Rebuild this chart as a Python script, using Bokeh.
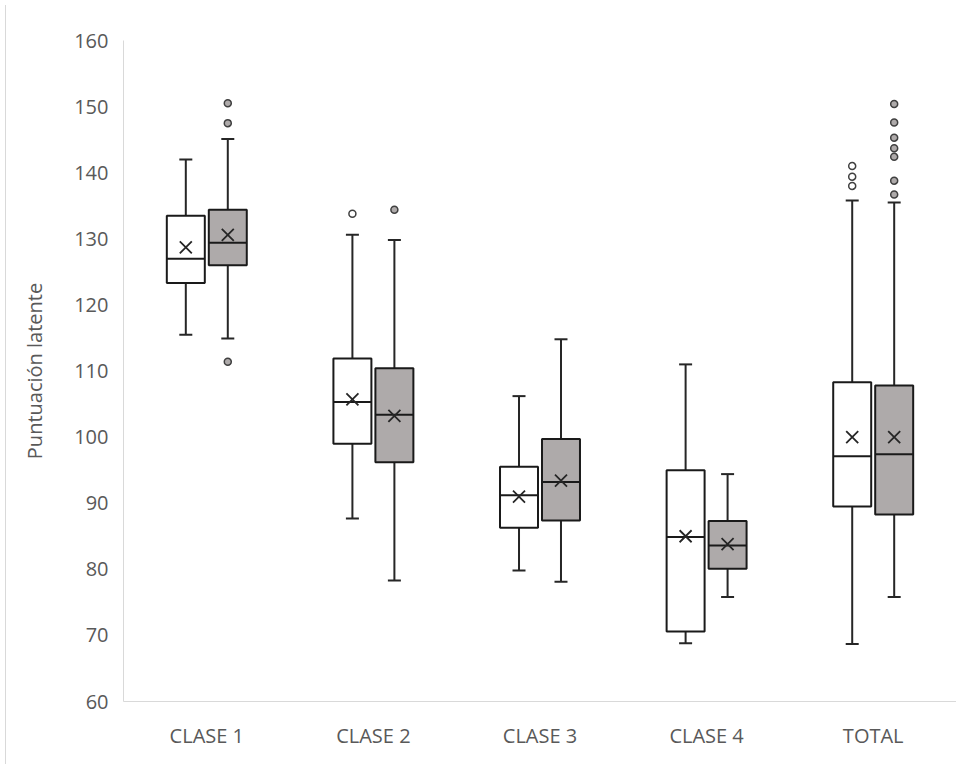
from bokeh.plotting import figure
from bokeh.models import ColumnDataSource, FactorRange, Range1d, FixedTicker, Div
from bokeh.transform import dodge
from bokeh.layouts import row
from bokeh.embed import file_html
from bokeh.resources import INLINE
from bokeh.core.properties import value

# ---------------- data ----------------
categories = ["CLASE 1", "CLASE 2", "CLASE 3", "CLASE 4", "TOTAL"]
y_ticks = [60, 70, 80, 90, 100, 110, 120, 130, 140, 150, 160]

# series A (white boxes)
a_low = [115.5, 87.7, 79.8, 68.8, 68.7]
a_q1 = [123.3, 99.0, 86.3, 70.6, 89.5]
a_med = [127.0, 105.3, 91.2, 84.9, 97.1]
a_q3 = [133.5, 111.9, 95.5, 95.0, 108.3]
a_high = [142.0, 130.6, 106.2, 111.0, 135.8]
a_mean = [128.7, 105.7, 91.0, 85.0, 100.0]
a_out_cat = ["CLASE 2", "TOTAL", "TOTAL", "TOTAL"]
a_out_val = [133.8, 138.0, 139.4, 141.0]

# series B (grey boxes)
b_low = [114.9, 78.3, 78.1, 75.8, 75.8]
b_q1 = [126.0, 96.2, 87.4, 80.1, 88.3]
b_med = [129.4, 103.4, 93.2, 83.6, 97.4]
b_q3 = [134.4, 110.4, 99.7, 87.3, 107.8]
b_high = [145.1, 129.8, 114.8, 94.4, 135.5]
b_mean = [130.6, 103.2, 93.4, 83.8, 100.0]
b_out_cat = ["CLASE 1", "CLASE 1", "CLASE 1", "CLASE 2",
             "TOTAL", "TOTAL", "TOTAL", "TOTAL", "TOTAL", "TOTAL", "TOTAL"]
b_out_val = [111.4, 147.5, 150.5, 134.4,
             136.7, 138.8, 142.4, 143.7, 145.3, 147.6, 150.4]

# ---------------- styling ----------------
FONT = "Open Sans"
TXT = "#595959"
AXIS = "#d9d9d9"
BOX_W = 0.228
CAP_W = 0.078
OFF = 0.126
GREY = "#aeaaaa"

p = figure(
    width=945, height=759,
    x_range=FactorRange(factors=categories, range_padding=0),
    y_range=Range1d(60, 160),
    output_backend="svg", toolbar_location=None,
    min_border_left=112, min_border_right=0,
    min_border_top=40, min_border_bottom=58,
)
p.outline_line_color = None
p.xgrid.grid_line_color = None
p.ygrid.grid_line_color = None
p.background_fill_color = "white"
p.border_fill_color = "white"

for ax in (p.xaxis, p.yaxis):
    ax.axis_line_color = AXIS
    ax.axis_line_width = 1
    ax.major_tick_line_color = None
    ax.minor_tick_line_color = None
    ax.major_tick_out = 0
    ax.major_tick_in = 0
    ax.major_label_text_font = FONT
    ax.major_label_text_font_size = "20px"
    ax.major_label_text_color = TXT

p.yaxis.ticker = FixedTicker(ticks=y_ticks)
p.yaxis.major_label_standoff = 15
p.yaxis.axis_label = "Puntuación latente"
p.yaxis.axis_label_text_font = FONT
p.yaxis.axis_label_text_font_size = "20px"
p.yaxis.axis_label_text_font_style = "normal"
p.yaxis.axis_label_text_color = TXT
p.yaxis.axis_label_standoff = 23
p.xaxis.major_label_standoff = 20


def draw_series(offset, low, q1, med, q3, high, mean, out_cat, out_val, fill, out_fill):
    src = ColumnDataSource(dict(cat=categories, low=low, q1=q1, med=med,
                                q3=q3, high=high, mean=mean))
    xr = p.x_range
    xc = dodge("cat", offset, range=xr)
    # whiskers
    p.segment(x0=xc, x1=xc, y0="q3", y1="high", source=src,
              line_color="#262626", line_width=2)
    p.segment(x0=xc, x1=xc, y0="low", y1="q1", source=src,
              line_color="#262626", line_width=2)
    # caps
    p.segment(x0=dodge("cat", offset - CAP_W / 2, range=xr),
              x1=dodge("cat", offset + CAP_W / 2, range=xr),
              y0="high", y1="high", source=src, line_color="#262626", line_width=2)
    p.segment(x0=dodge("cat", offset - CAP_W / 2, range=xr),
              x1=dodge("cat", offset + CAP_W / 2, range=xr),
              y0="low", y1="low", source=src, line_color="#262626", line_width=2)
    # box
    p.vbar(x=xc, width=BOX_W, bottom="q1", top="q3", source=src,
           fill_color=fill, line_color="#1a1a1a", line_width=2)
    # median
    p.segment(x0=dodge("cat", offset - BOX_W / 2, range=xr),
              x1=dodge("cat", offset + BOX_W / 2, range=xr),
              y0="med", y1="med", source=src, line_color="#1a1a1a", line_width=2)
    # mean
    p.scatter(x=xc, y="mean", source=src, marker="x", size=17,
              line_color="#262626", line_width=1.8)
    # outliers
    osrc = ColumnDataSource(dict(cat=out_cat, val=out_val))
    p.scatter(x=dodge("cat", offset, range=xr), y="val", source=osrc,
              marker="circle", size=7, fill_color=out_fill,
              line_color="#404040", line_width=1.5)


draw_series(-OFF, a_low, a_q1, a_med, a_q3, a_high, a_mean,
            a_out_cat, a_out_val, "white", "white")
draw_series(OFF, b_low, b_q1, b_med, b_q3, b_high, b_mean,
            b_out_cat, b_out_val, GREY, GREY)

edge = Div(text="", width=1, height=759,
           styles={"background-color": "#d9d9d9"})
layout = row(edge, p, spacing=0)

open("out.html", "w").write(file_html(layout, INLINE))
